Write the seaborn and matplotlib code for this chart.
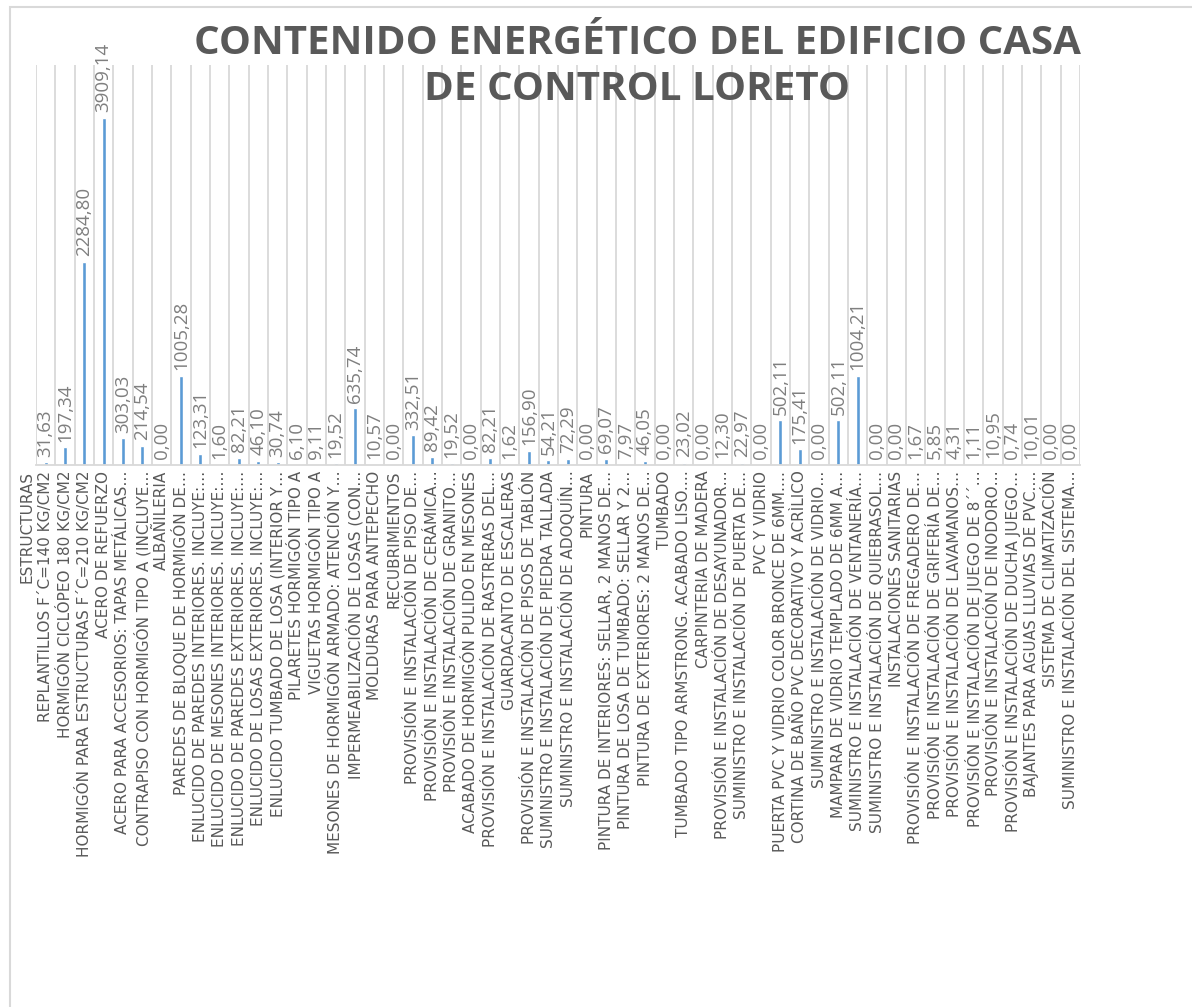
import numpy as np
import pandas as pd
import matplotlib
matplotlib.use("Agg")
import matplotlib.pyplot as plt
import seaborn as sns
from matplotlib.patches import Rectangle

# Rubros del presupuesto (eje X) y contenido energético de cada uno
rubros = [
    "ESTRUCTURAS",
    "REPLANTILLOS F´C=140 KG/CM2",
    "HORMIGÓN CICLÓPEO 180 KG/CM2",
    "HORMIGÓN PARA ESTRUCTURAS F´C=210 KG/CM2",
    "ACERO DE REFUERZO",
    "ACERO PARA ACCESORIOS: TAPAS METÁLICAS…",
    "CONTRAPISO CON HORMIGÓN TIPO A (INCLUYE…",
    "ALBAÑILERIA",
    "PAREDES DE BLOQUE DE HORMIGÓN DE…",
    "ENLUCIDO DE PAREDES INTERIORES. INCLUYE:…",
    "ENLUCIDO DE MESONES INTERIORES. INCLUYE:…",
    "ENLUCIDO DE PAREDES EXTERIORES. INCLUYE:…",
    "ENLUCIDO DE LOSAS EXTERIORES. INCLUYE:…",
    "ENLUCIDO TUMBADO DE LOSA (INTERIOR Y…",
    "PILARETES HORMIGÓN TIPO A",
    "VIGUETAS HORMIGÓN TIPO A",
    "MESONES DE HORMIGÓN ARMADO: ATENCIÓN Y…",
    "IMPERMEABILIZACIÓN DE LOSAS (CON…",
    "MOLDURAS PARA ANTEPECHO",
    "RECUBRIMIENTOS",
    "PROVISIÓN E INSTALACIÓN DE PISO DE…",
    "PROVISIÓN E INSTALACIÓN DE CERÁMICA…",
    "PROVISIÓN E INSTALACIÓN DE GRANITO…",
    "ACABADO DE HORMIGÓN PULIDO EN MESONES",
    "PROVISIÓN E INSTALACIÓN DE RASTRERAS DEL…",
    "GUARDACANTO DE ESCALERAS",
    "PROVISIÓN E INSTALACIÓN DE PISOS DE TABLÓN",
    "SUMINISTRO E INSTALACIÓN DE PIEDRA TALLADA",
    "SUMINISTRO E INSTALACIÓN DE ADOQUÍN…",
    "PINTURA",
    "PINTURA DE INTERIORES: SELLAR, 2 MANOS DE…",
    "PINTURA DE LOSA DE TUMBADO: SELLAR Y 2…",
    "PINTURA DE EXTERIORES: 2 MANOS DE…",
    "TUMBADO",
    "TUMBADO TIPO ARMSTRONG. ACABADO LISO.…",
    "CARPINTERIA DE MADERA",
    "PROVISIÓN E INSTALACIÓN DE DESAYUNADOR…",
    "SUMINISTRO E INSTALACIÓN DE PUERTA DE…",
    "PVC Y VIDRIO",
    "PUERTA PVC Y VIDRIO COLOR BRONCE DE 6MM.…",
    "CORTINA DE BAÑO PVC DECORATIVO Y ACRÌLICO",
    "SUMINISTRO E INSTALACIÓN DE VIDRIO…",
    "MAMPARA DE VIDRIO TEMPLADO DE 6MM A…",
    "SUMINISTRO E INSTALACIÓN DE VENTANERÍA…",
    "SUMINISTRO E INSTALACIÓN DE QUIEBRASOL…",
    "INSTALACIONES SANITARIAS",
    "PROVISIÓN E INSTALACIÓN DE FREGADERO DE…",
    "PROVISIÓN E INSTALACIÓN DE GRIFERÍA DE…",
    "PROVISIÓN E INSTALACIÓN DE LAVAMANOS…",
    "PROVISIÓN E INSTALACIÓN DE JUEGO DE 8´´…",
    "PROVISIÓN E INSTALACIÓN DE INODORO…",
    "PROVISIÓN E INSTALACIÓN DE DUCHA JUEGO…",
    "BAJANTES PARA AGUAS LLUVIAS DE PVC.…",
    "SISTEMA DE CLIMATIZACIÓN",
    "SUMINISTRO E INSTALACIÓN DEL SISTEMA…",
]

energia = [
    np.nan, 31.63, 197.34, 2284.80, 3909.14, 303.03, 214.54, 0.00, 1005.28, 123.31,
    1.60, 82.21, 46.10, 30.74, 6.10, 9.11, 19.52, 635.74, 10.57, 0.00,
    332.51, 89.42, 19.52, 0.00, 82.21, 1.62, 156.90, 54.21, 72.29, 0.00,
    69.07, 7.97, 46.05, 0.00, 23.02, 0.00, 12.30, 22.97, 0.00, 502.11,
    175.41, 0.00, 502.11, 1004.21, 0.00, 0.00, 1.67, 5.85, 4.31, 1.11,
    10.95, 0.74, 10.01, 0.00, 0.00,
]

titulo = "CONTENIDO ENERGÉTICO DEL EDIFICIO CASA\nDE CONTROL LORETO"

df = pd.DataFrame({"pos": np.arange(len(rubros)), "energia": energia})

sns.set_style("white")
plt.rcParams["font.family"] = ["Open Sans", "DejaVu Sans"]

fig = plt.figure(figsize=(11.92, 10.07), dpi=100)
W, H = 1192, 1007
ax = fig.add_axes([36 / W, 1 - 465 / H, (1080 - 36) / W, (465 - 65) / H])

sns.barplot(data=df, x="pos", y="energia", color="#5B9BD5", width=0.22,
            saturation=1, ax=ax)

n = len(rubros)
ax.set_ylim(0, 4500)
# the first (header) category falls just left of the plotted slots
ax.set_xlim(0.5, n - 0.5)

# vertical category gridlines
ax.set_xticks(np.arange(1, n + 1) - 0.5, minor=True)
ax.grid(True, which="minor", axis="x", color="#D9D9D9", linewidth=1.3)
ax.grid(False, which="major")
ax.set_axisbelow(True)
ax.set_yticks([])
ax.set_xlabel("")
ax.set_ylabel("")
for s in ["top", "left", "right"]:
    ax.spines[s].set_visible(False)
ax.spines["bottom"].set_color("#D9D9D9")
ax.spines["bottom"].set_linewidth(1.3)

lab_kw = dict(rotation=90, fontsize=11, color="#595959", family="DejaVu Sans")
ax.set_xticks(df["pos"][1:])
ax.set_xticklabels(rubros[1:], **lab_kw)
ax.tick_params(axis="x", which="both", length=0, pad=4)
# header label sits in the gap left of the first slot
ax.annotate(rubros[0], (0.03, 0), xytext=(0, -4), textcoords="offset points",
            ha="center", va="top", annotation_clip=False, **lab_kw)

# value labels
for i, v in enumerate(energia):
    if np.isnan(v):
        continue
    ax.annotate(f"{v:.2f}".replace(".", ","), (i, v), xytext=(0, 4),
                textcoords="offset points", rotation=90, ha="center",
                va="bottom", fontsize=13.5, color="#7F7F7F")

fig.text(637 / W, 1 - 24 / H, titulo, ha="center", va="top", fontsize=29,
         fontweight="bold", color="#595959", linespacing=1.25)

# chart frame
fig.patches.append(Rectangle((10 / W, -0.5), 2, 1 - 7 / H + 0.5,
                             transform=fig.transFigure, fill=False,
                             edgecolor="#D9D9D9", linewidth=1.5))

fig.savefig("out.png", dpi=100)
